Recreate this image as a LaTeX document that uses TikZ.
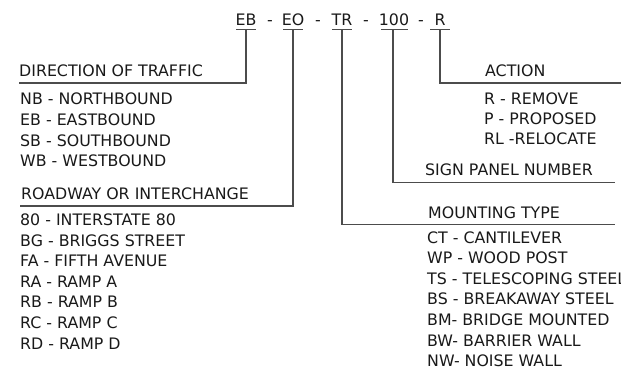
\documentclass[tikz,border=0pt]{standalone}
\usepackage{fontspec}
\setmainfont{DejaVu Sans}
\begin{document}
\begin{tikzpicture}[x=1pt,y=-1pt,
  font=\fontsize{15.8}{18}\selectfont,
  lbl/.style={anchor=base west, inner sep=0pt, text=black!90},
  tok/.style={anchor=base, inner sep=0pt, text=black!90},
  conn/.style={draw=black!70, line width=1.3pt}]
\useasboundingbox (0,0) rectangle (621,371);
% header tokens
\node[tok] (eb) at (246,26) {EB};
\node[tok] (d1) at (270,26) {-};
\node[tok] (eo) at (293,26) {EO};
\node[tok] (d2) at (318,26) {-};
\node[tok] (tr) at (342,26) {TR};
\node[tok] (d3) at (366,26) {-};
\node[tok] (n100) at (394,26) {100};
\node[tok] (d4) at (421,26) {-};
\node[tok] (r) at (440,26) {R};
% underlines
\coordinate (ebl) at (236,29.5); \coordinate (ebr) at (256,29.5); \coordinate (ebu) at (246,29.5);
\coordinate (eol) at (283,29.5); \coordinate (eor) at (303,29.5); \coordinate (eou) at (293,29.5);
\coordinate (trl) at (332,29.5); \coordinate (trr) at (352,29.5); \coordinate (tru) at (342,29.5);
\coordinate (nl) at (381,29.5); \coordinate (nr) at (408,29.5); \coordinate (nu) at (393,29.5);
\coordinate (rl) at (430,29.5); \coordinate (rr) at (450,29.5); \coordinate (ru) at (440,29.5);
\draw[conn] (ebl) -- (ebr);
\draw[conn] (eol) -- (eor);
\draw[conn] (trl) -- (trr);
\draw[conn] (nl) -- (nr);
\draw[conn] (rl) -- (rr);
% connector ends
\coordinate (dirc) at (19,83);
\coordinate (roadc) at (20,206);
\coordinate (mountc) at (615,224.5);
\coordinate (signc) at (615,182.5);
\coordinate (actc) at (621,83);
\draw[conn] (ebu) |- (dirc);
\draw[conn] (eou) |- (roadc);
\draw[conn] (tru) |- (mountc);
\draw[conn] (nu) |- (signc);
\draw[conn] (ru) |- (actc);
% left group: direction
\node[lbl] (dir) at (19,77) {DIRECTION OF TRAFFIC};
\node[lbl] (nb) at (20,105) {NB - NORTHBOUND};
\node[lbl] (ebt) at (20,126) {EB - EASTBOUND};
\node[lbl] (sb) at (20,146.5) {SB - SOUTHBOUND};
\node[lbl] (wb) at (20,167) {WB - WESTBOUND};
% roadway
\node[lbl] (road) at (21,199.5) {ROADWAY OR INTERCHANGE};
\node[lbl] (i80) at (20,226) {80 - INTERSTATE 80};
\node[lbl] (bg) at (20,246.5) {BG - BRIGGS STREET};
\node[lbl] (fa) at (20,267) {FA - FIFTH AVENUE};
\node[lbl] (ra) at (20,287.5) {RA - RAMP A};
\node[lbl] (rb) at (20,308) {RB - RAMP B};
\node[lbl] (rc) at (20,328.5) {RC - RAMP C};
\node[lbl] (rd) at (20,349) {RD - RAMP D};
% action
\node[lbl] (act) at (485,76.5) {ACTION};
\node[lbl] (rem) at (484,105) {R - REMOVE};
\node[lbl] (pro) at (484,125) {P - PROPOSED};
\node[lbl] (rel) at (484,144.5) {RL -RELOCATE};
% sign panel
\node[lbl] (sign) at (425,175.5) {SIGN PANEL NUMBER};
% mounting
\node[lbl] (mount) at (428,218.5) {MOUNTING TYPE};
\node[lbl] (ct) at (427,243.5) {CT - CANTILEVER};
\node[lbl] (wp) at (427,264) {WP - WOOD POST};
\node[lbl] (ts) at (427,284.5) {TS - TELESCOPING STEEL};
\node[lbl] (bs) at (427,305) {BS - BREAKAWAY STEEL};
\node[lbl] (bm) at (427,325.5) {BM- BRIDGE MOUNTED};
\node[lbl] (bw) at (427,346) {BW- BARRIER WALL};
\node[lbl] (nw) at (427,366.5) {NW- NOISE WALL};
\end{tikzpicture}
\end{document}
